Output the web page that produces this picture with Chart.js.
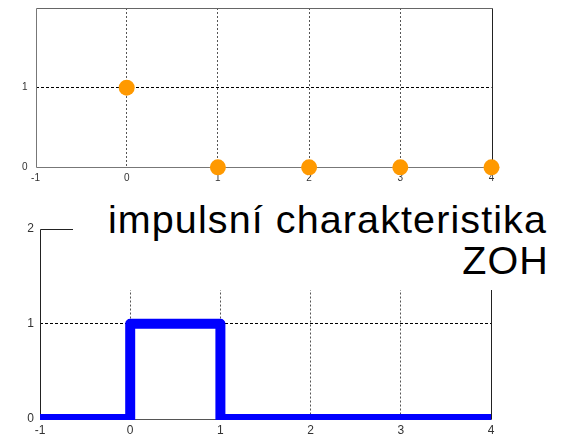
<!DOCTYPE html>
<html><head><meta charset="utf-8">
<script src="https://cdn.jsdelivr.net/npm/chart.js@4"></script>
<style>
html,body{margin:0;padding:0;background:#fff;width:562px;height:438px;overflow:hidden;position:relative}
canvas{position:absolute;left:0}
#c1{top:0}
#c2{top:195px}
#mask{position:absolute;left:73px;top:195px;width:489px;height:95px;background:#fff}
.t{position:absolute;font-family:"Liberation Sans",Arial,sans-serif;font-size:39.5px;line-height:39.5px;color:#000;white-space:nowrap;letter-spacing:1.1px}
#t1{top:200px;right:15px}
#t2{top:241px;right:13px}
</style></head><body>
<canvas id="c1" width="562" height="195"></canvas>
<canvas id="c2" width="562" height="243"></canvas>
<div id="mask"></div>
<div class="t" id="t1">impulsní charakteristika</div>
<div class="t" id="t2">ZOH</div>
<script>
// ---- data ----
const xTickValues = [-1, 0, 1, 2, 3, 4];
const yTickValues = [0, 1, 2];
const topYLabelsShown = [0, 1];
const bottomYLabelsShown = [0, 1, 2];
const sampleX = [0, 1, 2, 3, 4];
const impulse = [1, 0, 0, 0, 0];
const zohX = [-1, 0, 1, 2, 3, 4];
const zohY = [0, 1, 0, 0, 0, 0];

const FONT = 'Liberation Sans, Arial, sans-serif';

const boxPlugin = {
  id: 'box',
  beforeDatasetsDraw(chart, args, o) {
    const {ctx, chartArea: a} = chart;
    const px = v => Math.round(v) + 0.5;
    const L = px(a.left), R = px(a.right), T = px(a.top), B = px(a.bottom);
    ctx.save();
    ctx.lineWidth = 1;
    ctx.setLineDash([]);
    const line = (x1, y1, x2, y2, c) => { ctx.strokeStyle = c; ctx.beginPath(); ctx.moveTo(x1, y1); ctx.lineTo(x2, y2); ctx.stroke(); };
    line(L, T, R, T, o.top);
    line(R, T, R, B, o.right);
    line(L, T, L, B, o.left);
    line(L, B, R, B, o.bottom);
    ctx.restore();
  }
};

function makeChart(id, cfg) {
  const edgeX = v => v === xTickValues[0] || v === xTickValues[xTickValues.length - 1];
  const edgeY = v => v === yTickValues[0] || v === yTickValues[yTickValues.length - 1];
  return new Chart(document.getElementById(id), {
    type: 'scatter',
    data: { datasets: cfg.datasets },
    plugins: [boxPlugin],
    options: {
      responsive: false,
      animation: false,
      devicePixelRatio: 1,
      events: [],
      layout: { padding: cfg.padding },
      plugins: { legend: { display: false }, tooltip: { enabled: false }, box: cfg.box },
      scales: {
        x: {
          type: 'linear', min: -1, max: 4,
          afterBuildTicks: s => { s.ticks = xTickValues.map(v => ({ value: v })); },
          afterFit: s => { s.height = cfg.xHeight; s.paddingLeft = 0; s.paddingRight = 0; },
          grid: { color: c => (c.tick && edgeX(c.tick.value)) ? 'rgba(0,0,0,0)' : '#555', lineWidth: 1, drawTicks: false },
          border: { display: false, dash: [2, 2] },
          ticks: { color: '#333', font: { family: FONT, size: cfg.fontSize }, padding: cfg.xPad, maxRotation: 0, autoSkip: false,
                   callback: v => String(v) }
        },
        y: {
          type: 'linear', min: 0, max: 2,
          afterBuildTicks: s => { s.ticks = yTickValues.map(v => ({ value: v })); },
          afterFit: s => { s.width = cfg.yWidth; s.paddingTop = 0; s.paddingBottom = 0; },
          grid: { color: c => (c.tick && edgeY(c.tick.value)) ? 'rgba(0,0,0,0)' : '#000', lineWidth: 1, drawTicks: false },
          border: { display: false, dash: [3, 2] },
          ticks: { color: '#333', font: { family: FONT, size: cfg.fontSize }, padding: cfg.yPad, autoSkip: false,
                   callback: v => cfg.yShown.includes(v) ? String(v) : '' }
        }
      }
    }
  });
}

makeChart('c1', {
  padding: { left: 0, top: 7, right: 70.5, bottom: 0 },
  xHeight: 27.7, yWidth: 35.5, fontSize: 10, xPad: 5, yPad: 8,
  yShown: topYLabelsShown,
  box: { top: '#666', right: '#222', left: '#777', bottom: '#777' },
  datasets: [{
    data: sampleX.map((x, i) => ({ x: x, y: impulse[i] })),
    showLine: false,
    pointRadius: 8,
    pointBackgroundColor: '#FF9900',
    pointBorderWidth: 0,
    clip: false
  }]
});

makeChart('c2', {
  padding: { left: 0, top: 33.5, right: 71, bottom: 0 },
  xHeight: 19, yWidth: 40, fontSize: 12, xPad: 4, yPad: 6,
  yShown: bottomYLabelsShown,
  box: { top: '#222', right: '#222', left: '#222', bottom: '#555' },
  datasets: [{
    data: zohX.map((x, i) => ({ x: x, y: zohY[i] })),
    showLine: true,
    stepped: 'before',
    borderColor: '#0000FF',
    borderWidth: 10,
    borderJoinStyle: 'round',
    borderCapStyle: 'butt',
    pointRadius: 0,
    clip: { left: 0, top: 10, right: 0, bottom: 1 }
  }]
});
</script>
</body></html>
